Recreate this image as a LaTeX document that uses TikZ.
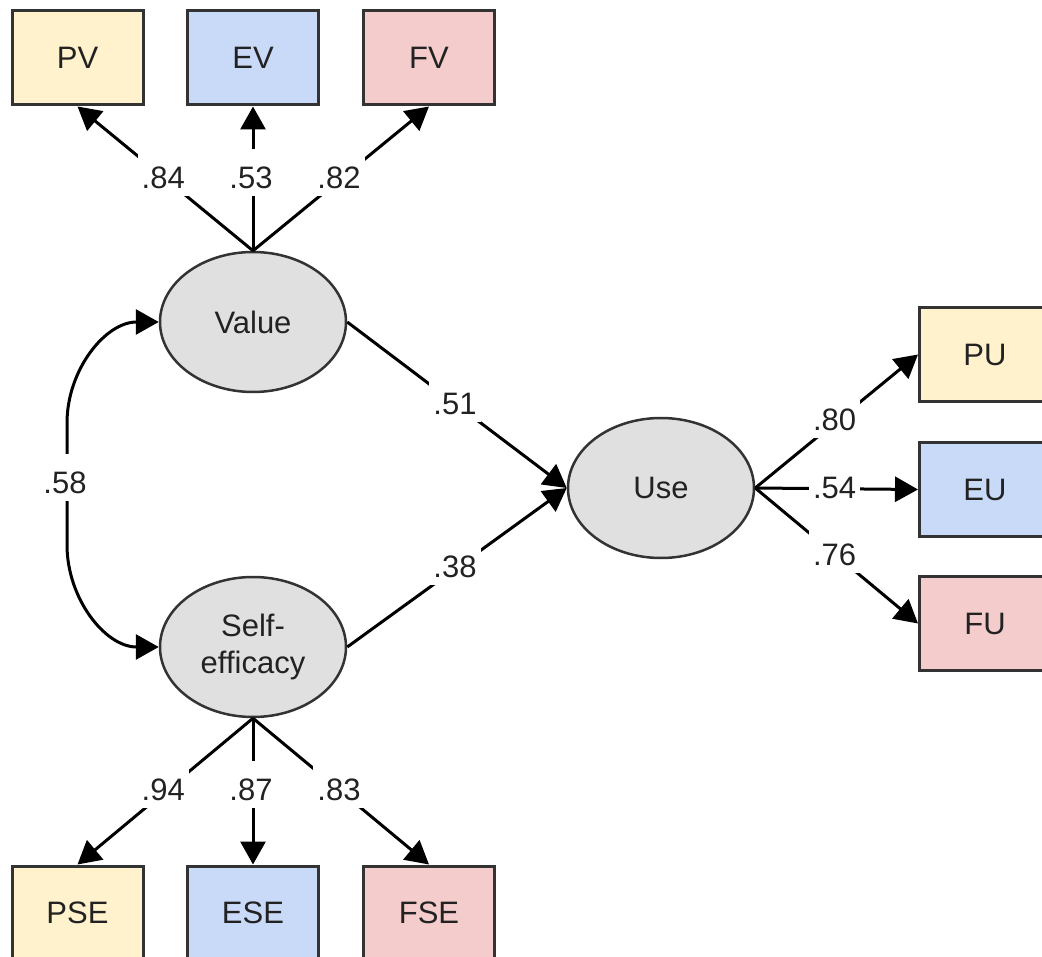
\documentclass[tikz,border=0pt]{standalone}
\usepackage{fontspec}
\setmainfont{Liberation Sans}
\usetikzlibrary{arrows.meta,shapes.geometric}
\definecolor{cyel}{HTML}{FFF2CC}
\definecolor{cblu}{HTML}{C9DAF8}
\definecolor{cred}{HTML}{F4CCCC}
\definecolor{cgry}{HTML}{E0E0E0}
\definecolor{cedge}{HTML}{333333}
\definecolor{ctext}{HTML}{222222}
\begin{document}
\begin{tikzpicture}[x=1pt,y=-1pt,
  ind/.style={draw=cedge, line width=3pt, minimum width=131pt, minimum height=94pt, inner sep=0pt, text=ctext, font=\fontsize{31}{37}\selectfont},
  lat/.style={ellipse, draw=cedge, line width=2.5pt, fill=cgry, minimum width=186pt, minimum height=140pt, inner sep=0pt, text=ctext, align=center, font=\fontsize{31}{37}\selectfont},
  arr/.style={line width=3pt, -{Triangle[length=23pt,width=25pt]}},
  dbl/.style={line width=3pt, {Triangle[length=23pt,width=25pt]}-{Triangle[length=23pt,width=25pt]}},
  lbl/.style={fill=white, text=ctext, font=\fontsize{31}{37}\selectfont, text height=32pt, text depth=0pt, inner xsep=4pt, inner ysep=7.5pt, yshift=6.5pt, xshift=-2pt}]
\fill[white] (0,0) rectangle (1042,957);
\clip (0,0) rectangle (1042,957);
% latent variables
\node[lat] (val) at (253,322) {Value};
\node[lat] (se) at (253,647) {Self-\\efficacy};
\node[lat] (use) at (661,488) {Use};
% indicators
\node[ind, fill=cyel] (pv) at (77.5,58) {PV};
\node[ind, fill=cblu] (ev) at (253,58) {EV};
\node[ind, fill=cred] (fv) at (429,58) {FV};
\node[ind, fill=cyel] (pse) at (77.5,913) {PSE};
\node[ind, fill=cblu] (ese) at (253,913) {ESE};
\node[ind, fill=cred] (fse) at (429,913) {FSE};
\node[ind, fill=cyel] (pu) at (985,354.5) {PU};
\node[ind, fill=cblu] (eu) at (985,489.5) {EU};
\node[ind, fill=cred] (fu) at (985,623.5) {FU};
% loadings
\draw[arr] (val.north) -- node[lbl]{.84} (pv.south);
\draw[arr] (val.north) -- node[lbl]{.53} (ev.south);
\draw[arr] (val.north) -- node[lbl]{.82} (fv.south);
\draw[arr] (se.south) -- node[lbl]{.94} (pse.north);
\draw[arr] (se.south) -- node[lbl]{.87} (ese.north);
\draw[arr] (se.south) -- node[lbl]{.83} (fse.north);
\draw[arr] (use.east) -- node[lbl]{.80} (pu.west);
\draw[arr] (use.east) -- node[lbl]{.54} (eu.west);
\draw[arr] (use.east) -- node[lbl]{.76} (fu.west);
% structural paths
\draw[arr] (val.east) -- node[lbl]{.51} (use.west);
\draw[arr] (se.east) -- node[lbl]{.38} (use.west);
% correlation
\coordinate (c1) at (67,423);
\coordinate (c2) at (67,545);
\draw[dbl] (val.west) to[out=180,in=90] (c1) -- node[lbl]{.58} (c2) to[out=-90,in=180] (se.west);
\end{tikzpicture}
\end{document}
